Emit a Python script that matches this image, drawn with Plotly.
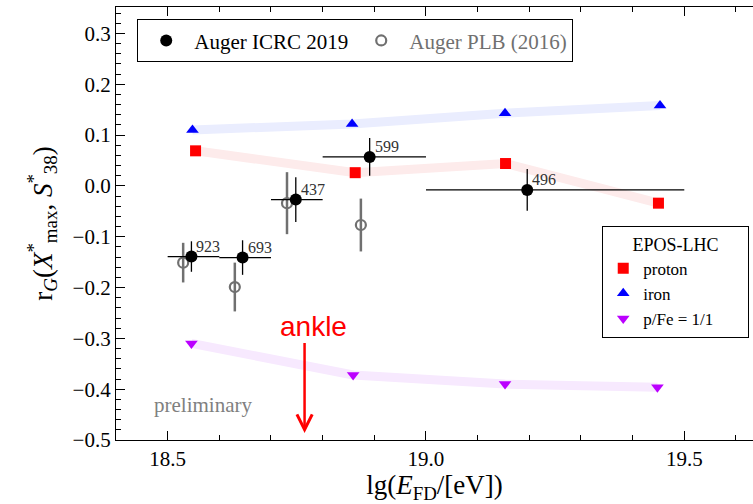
import plotly.graph_objects as go

# ---------------- data ----------------
icrc_x = [18.546, 18.645, 18.748, 18.891, 19.196]
icrc_y = [-0.139, -0.141, -0.027, 0.057, -0.008]
icrc_yerr = [0.030, 0.034, 0.044, 0.037, 0.041]
icrc_bin_lo = [18.5, 18.6, 18.7, 18.8, 19.0]
icrc_bin_hi = [18.6, 18.7, 18.8, 19.0, 19.5]
icrc_n = ["923", "693", "437", "599", "496"]

plb_x = [18.530, 18.630, 18.731, 18.874]
plb_y = [-0.151, -0.199, -0.034, -0.077]
plb_yerr = [0.039, 0.048, 0.061, 0.052]

proton_x = [18.554, 18.863, 19.154, 19.450]
proton_y = [0.069, 0.026, 0.044, -0.034]
iron_x = [18.548, 18.857, 19.153, 19.453]
iron_y = [0.110, 0.122, 0.143, 0.158]
mix_x = [18.546, 18.859, 19.153, 19.448]
mix_y = [-0.310, -0.372, -0.390, -0.396]

ankle_x = 18.765

SERIF = "Liberation Serif, Times New Roman, serif"
NBSP = "\u00a0"

fig = go.Figure()

# model bands
for xs, ys, col in [(iron_x, iron_y, "rgb(234,237,254)"),
                    (proton_x, proton_y, "rgb(253,235,235)"),
                    (mix_x, mix_y, "rgb(247,233,254)")]:
    fig.add_trace(go.Scatter(x=xs, y=ys, mode="lines", line=dict(color=col, width=9),
                             showlegend=False, hoverinfo="skip"))

# PLB 2016 (open grey) - drawn under ICRC points
fig.add_trace(go.Scatter(
    x=plb_x, y=plb_y, mode="markers", name='<span style="color:#707070">Auger PLB (2016)</span>',
    marker=dict(symbol="circle-open", size=10, color="#707070", line=dict(width=2.2, color="#707070")),
    error_y=dict(type="data", array=plb_yerr, color="#707070", thickness=2.5, width=0),
    legend="legend", legendrank=2))

# ICRC 2019 (black)
fig.add_trace(go.Scatter(
    x=icrc_x, y=icrc_y, mode="markers", name="Auger ICRC 2019",
    marker=dict(symbol="circle", size=12, color="black"),
    error_y=dict(type="data", array=icrc_yerr, color="black", thickness=1.3, width=0),
    error_x=dict(type="data", symmetric=False,
                 array=[h - x for h, x in zip(icrc_bin_hi, icrc_x)],
                 arrayminus=[x - l for x, l in zip(icrc_x, icrc_bin_lo)],
                 color="black", thickness=1.3, width=0),
    legend="legend", legendrank=1))

# models
fig.add_trace(go.Scatter(x=proton_x, y=proton_y, mode="markers", name="proton",
                         marker=dict(symbol="square", size=11, color="#ff0000"), legend="legend2"))
fig.add_trace(go.Scatter(x=iron_x, y=iron_y, mode="markers", name="iron",
                         marker=dict(symbol="triangle-up", size=11, color="#0000ff"), legend="legend2"))
fig.add_trace(go.Scatter(x=mix_x, y=mix_y, mode="markers", name="p/Fe = 1/1",
                         marker=dict(symbol="triangle-down", size=11, color="#bb00ff"), legend="legend2"))

# number labels
for x, y, t in zip(icrc_x, icrc_y, icrc_n):
    fig.add_annotation(x=x, y=y, text=t, showarrow=False, xanchor="left", yanchor="bottom",
                       xshift=3, yshift=0, font=dict(family=SERIF, size=16, color="#333333"))

# ankle arrow + label
fig.add_annotation(x=ankle_x, y=-0.486, ax=ankle_x, ay=-0.306, axref="x", ayref="y",
                   xref="x", yref="y", text="", showarrow=True, arrowhead=5, arrowsize=1.2,
                   arrowwidth=2.5, arrowcolor="#ff0000")
fig.add_annotation(x=18.782, y=-0.276, text="ankle", showarrow=False,
                   font=dict(family="Liberation Sans, Arial, sans-serif", size=28, color="#ff0000"))
fig.add_annotation(x=18.569, y=-0.431, text="preliminary", showarrow=False,
                   font=dict(family=SERIF, size=21, color="#808080"))

tickfont = dict(family=SERIF, size=21, color="black")

fig.update_xaxes(range=[18.4, 19.633], dtick=0.5, tick0=18.5,
                 showline=True, linecolor="black", linewidth=1.2, mirror="ticks",
                 ticks="inside", ticklen=9, tickwidth=1.2, tickcolor="black",
                 showgrid=False, zeroline=False, tickformat=".1f", tickfont=tickfont,
                 minor=dict(dtick=0.1, ticklen=5, ticks="inside", tickcolor="black", tickwidth=1.2),
                 title=dict(text="lg(<i>E</i><sub>FD</sub>/[eV])",
                            font=dict(family=SERIF, size=27, color="black"), standoff=8))
fig.update_yaxes(range=[-0.5, 0.352], dtick=0.1, tick0=0,
                 showline=True, linecolor="black", linewidth=1.2, mirror=False,
                 ticks="inside", ticklen=9, tickwidth=1.2, tickcolor="black",
                 showgrid=False, zeroline=False, tickformat=".1f", tickfont=tickfont,
                 minor=dict(dtick=0.02, ticklen=5, ticks="inside", tickcolor="black", tickwidth=1.2),
                 title=dict(text="r<sub><i>G</i></sub>(<i>X</i><sup>*</sup><sub>max</sub>, <i>S</i><sup>*</sup><sub>38</sub>)",
                            font=dict(family=SERIF, size=27, color="black"), standoff=12))

fig.update_layout(
    width=753, height=504,
    margin=dict(l=116, r=0, t=7, b=64),
    plot_bgcolor="white", paper_bgcolor="white",
    yaxis2=dict(overlaying="y", side="right", range=[-0.5, 0.352], dtick=0.1, tick0=0,
                showline=False, ticks="inside", ticklen=5, tickwidth=1.2, tickcolor="black",
                showticklabels=False, showgrid=False, zeroline=False),
    legend=dict(orientation="h", x=0.033, y=0.972, xanchor="left", yanchor="top",
                bordercolor="black", borderwidth=1.2, bgcolor="white", itemwidth=46,
                font=dict(family=SERIF, size=21, color="black")),
    legend2=dict(orientation="v", x=0.763, y=0.494, xanchor="left", yanchor="top",
                 bordercolor="black", borderwidth=1.2, bgcolor="white",
                 title=dict(text=NBSP * 6 + "EPOS-LHC" + NBSP * 6, side="top center",
                            font=dict(family=SERIF, size=18, color="black")),
                 font=dict(family=SERIF, size=17, color="black")),
)

fig.write_html("out.html")
